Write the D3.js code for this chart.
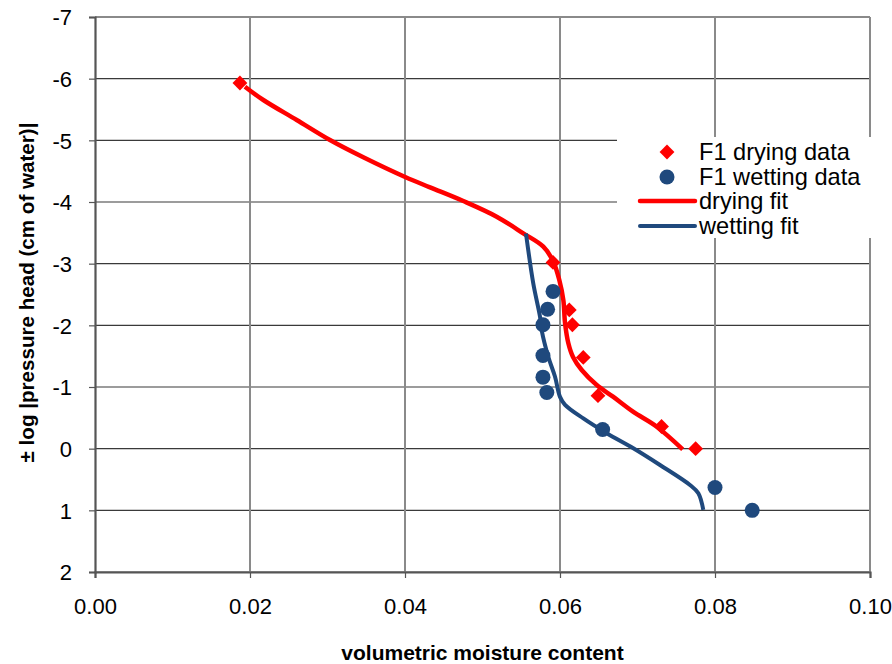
<!DOCTYPE html>
<html>
<head>
<meta charset="utf-8">
<script src="https://cdn.jsdelivr.net/npm/d3@7"></script>
<style>
  html, body { margin: 0; padding: 0; background: #fff; }
  svg { display: block; font-family: Arial, "Liberation Sans", sans-serif; }
</style>
</head>
<body>
<svg id="chart" width="892" height="664"></svg>
<script>
// ---- data ----
const xTicks = [0.00, 0.02, 0.04, 0.06, 0.08, 0.10];
const yTicks = [-7, -6, -5, -4, -3, -2, -1, 0, 1, 2];

const dryingTheta = [0.0187, 0.0591, 0.0612, 0.0616, 0.0630, 0.0649, 0.0731, 0.0775];
const dryingH     = [-5.93, -3.02, -2.25, -2.01, -1.48, -0.86, -0.36, 0.00];

const wettingTheta = [0.0591, 0.0584, 0.0578, 0.0578, 0.0578, 0.0583, 0.0655, 0.0800, 0.0848];
const wettingH     = [-2.55, -2.26, -2.01, -1.51, -1.16, -0.91, -0.31, 0.63, 1.00];

const dryFitTheta = [0.01935, 0.02172, 0.02603, 0.03032, 0.03462, 0.04009, 0.04323, 0.04752, 0.05183, 0.05526, 0.05785, 0.05914, 0.05991, 0.06043, 0.06065, 0.06107, 0.06168, 0.06280, 0.06474, 0.06684, 0.06942, 0.07248, 0.07583];
const dryFitH     = [-5.87, -5.654, -5.33, -5.005, -4.725, -4.401, -4.238, -4.016, -3.762, -3.492, -3.275, -3.032, -2.735, -2.411, -2.038, -1.714, -1.487, -1.276, -1.032, -0.843, -0.60, -0.356, 0.01];

const wetFitTheta = [0.05561, 0.05655, 0.05742, 0.05764, 0.05849, 0.05935, 0.06000, 0.06065, 0.06301, 0.06603, 0.06946, 0.07290, 0.07677, 0.07785, 0.07849];
const wetFitH     = [-3.49, -2.68, -2.14, -1.92, -1.49, -1.17, -0.84, -0.71, -0.49, -0.25, -0.006, 0.265, 0.589, 0.724, 0.994];

const legendLabels = ["F1 drying data", "F1 wetting data", "drying fit", "wetting fit"];
const xTitle = "volumetric moisture content";
const yTitle = "\u00b1 log |pressure head (cm of water)|";

// ---- layout ----
const RED = "#ff0000", BLUE = "#1f497d";
const plot = { left: 95, right: 870, top: 17, bottom: 572 };

const svg = d3.select("#chart");
const x = d3.scaleLinear().domain([0, 0.10]).range([plot.left, plot.right]);
const y = d3.scaleLinear().domain([-7, 2]).range([plot.top, plot.bottom]);

// gridlines
svg.append("g").selectAll("line").data(yTicks).join("line")
  .attr("x1", plot.left).attr("x2", plot.right)
  .attr("y1", d => y(d)).attr("y2", d => y(d))
  .attr("stroke", d => d === -7 ? "#8a8a8a" : "#3a3a3a")
  .attr("stroke-width", d => d === -7 ? 2 : 1.2);
svg.append("g").selectAll("line").data(xTicks.slice(1)).join("line")
  .attr("x1", d => x(d)).attr("x2", d => x(d))
  .attr("y1", plot.top).attr("y2", plot.bottom)
  .attr("stroke", "#8a8a8a").attr("stroke-width", 2);

// axes
const yAxis = svg.append("g")
  .attr("transform", `translate(${plot.left},0)`)
  .call(d3.axisLeft(y).tickValues(yTicks).tickSize(6).tickPadding(17).tickFormat(d => String(d)));
const xAxis = svg.append("g")
  .attr("transform", `translate(0,${plot.bottom})`)
  .call(d3.axisBottom(x).tickValues(xTicks).tickSize(6).tickPadding(20).tickFormat(d3.format(".2f")));
[yAxis, xAxis].forEach(g => {
  g.select(".domain").attr("stroke", "#555").attr("stroke-width", 2.2);
  g.selectAll(".tick line").attr("stroke", "#555").attr("stroke-width", 1.2);
  g.selectAll(".tick text").attr("font-size", 22).attr("fill", "#000")
    .attr("font-family", "Arial, 'Liberation Sans', sans-serif");
});
yAxis.selectAll(".tick text").attr("dy", "0.36em");

// titles
svg.append("text").attr("x", (plot.left + plot.right) / 2).attr("y", 660)
  .attr("text-anchor", "middle").attr("font-size", 21).attr("font-weight", "bold")
  .text(xTitle);
svg.append("text").attr("transform", `translate(34,${(plot.top + plot.bottom) / 2 - 2}) rotate(-90)`)
  .attr("text-anchor", "middle").attr("font-size", 20.6).attr("font-weight", "bold")
  .text(yTitle);

// fit lines
const line = d3.line().curve(d3.curveCatmullRom.alpha(0.5));
svg.append("path")
  .attr("d", line(dryFitTheta.map((t, i) => [x(t), y(dryFitH[i])])))
  .attr("fill", "none").attr("stroke", RED).attr("stroke-width", 4.5);
svg.append("path")
  .attr("d", line(wetFitTheta.map((t, i) => [x(t), y(wetFitH[i])])))
  .attr("fill", "none").attr("stroke", BLUE).attr("stroke-width", 4);

// markers
const diamond = d3.symbol().type(d3.symbolSquare).size(110);
svg.append("g").selectAll("path").data(dryingTheta).join("path")
  .attr("d", diamond())
  .attr("transform", (t, i) => `translate(${x(t)},${y(dryingH[i])}) rotate(45)`)
  .attr("fill", RED);
svg.append("g").selectAll("circle").data(wettingTheta).join("circle")
  .attr("cx", t => x(t)).attr("cy", (t, i) => y(wettingH[i]))
  .attr("r", 7.5).attr("fill", BLUE);

// legend
const lg = svg.append("g");
lg.append("rect").attr("x", 617).attr("y", 137).attr("width", 275).attr("height", 101).attr("fill", "#fff");
const rows = [160, 185, 209, 234];
lg.append("path").attr("d", diamond()).attr("transform", `translate(667,${rows[0] - 8}) rotate(45)`).attr("fill", RED);
lg.append("circle").attr("cx", 667).attr("cy", rows[1] - 8).attr("r", 7.5).attr("fill", BLUE);
lg.append("line").attr("x1", 640).attr("x2", 695).attr("y1", rows[2] - 8).attr("y2", rows[2] - 8)
  .attr("stroke", RED).attr("stroke-width", 4.5).attr("stroke-linecap", "round");
lg.append("line").attr("x1", 640).attr("x2", 695).attr("y1", rows[3] - 8).attr("y2", rows[3] - 8)
  .attr("stroke", BLUE).attr("stroke-width", 4).attr("stroke-linecap", "round");
lg.selectAll("text").data(legendLabels).join("text")
  .attr("x", 699).attr("y", (d, i) => rows[i])
  .attr("font-size", 23.6).attr("fill", "#000").text(d => d);
</script>
</body>
</html>
